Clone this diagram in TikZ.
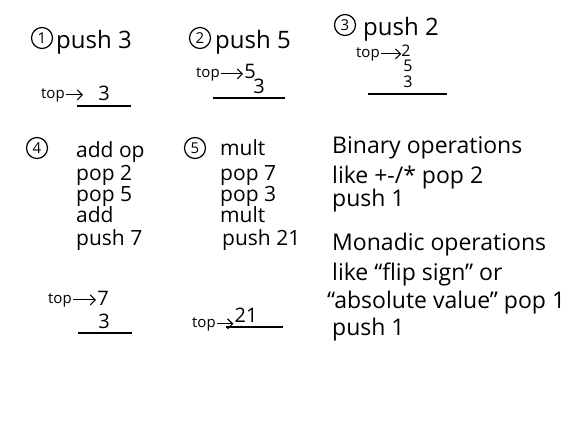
\documentclass[tikz,border=0pt]{standalone}
\usepackage{fontspec}
\setmainfont{Open Sans}
\usetikzlibrary{arrows.meta}

\tikzset{
  hand/.style={anchor=base west, inner sep=0pt, font=\fontsize{21}{25}\selectfont},
  head/.style={hand, font=\fontsize{24}{28}\selectfont},
  note/.style={hand, font=\fontsize{23}{27}\selectfont},
  stepno/.style={circle, draw, line width=1.2pt, inner sep=1pt, minimum size=21pt,
    font=\fontsize{15}{15}\selectfont},
  toplbl/.style={anchor=base west, inner sep=1pt, font=\fontsize{15}{15}\selectfont},
  val/.style={anchor=base, inner sep=1pt, font=\fontsize{20}{20}\selectfont},
  smallval/.style={val, inner sep=0pt, font=\fontsize{16}{16}\selectfont},
  ptr/.style={-{Straight Barb[length=5pt]}, line width=1.1pt},
  floor/.style={line width=1.5pt}
}

\begin{document}
\begin{tikzpicture}[x=1pt,y=-1pt]
\useasboundingbox (0,0) rectangle (576,432);

% the three pushes
\node[stepno] (s1) at (42,38) {1};
\node[head] (op1) at (56,48) {push 3};
\node[stepno] (s2) at (200,38) {2};
\node[head] (op2) at (215,48) {push 5};
\node[stepno] (s3) at (345,25) {3};
\node[head] (op3) at (363,35) {push 2};

% stack after 1
\node[toplbl] (t1) at (40,98) {top};
\node[val] (a1) at (104,100) {3};
\draw[ptr, shorten >=14pt] (t1.east) -- (t1.east -| a1.west);
\coordinate (f1l) at (77,106);
\coordinate (f1r) at (131,106);
\draw[floor] (f1l) -- (f1r);

% stack after 2
\node[toplbl] (t2) at (195,77) {top};
\node[val] (a2) at (250,78) {5};
\node[val] (b2) at (259,93) {3};
\draw[ptr] (t2.east) -- (t2.east -| a2.west);
\coordinate (f2l) at (213,98);
\coordinate (f2r) at (285,98);
\draw[floor] (f2l) -- (f2r);

% stack after 3
\node[toplbl] (t3) at (355,57) {top};
\node[smallval] (a3) at (406,56) {2};
\node[smallval] (b3) at (408,71) {5};
\node[smallval] (c3) at (408,87) {3};
\draw[ptr] (t3.east) -- (t3.east -| a3.west);
\coordinate (f3l) at (368,94);
\coordinate (f3r) at (447,94);
\draw[floor] (f3l) -- (f3r);

% add
\node[stepno] (s4) at (37,148) {4};
\node[hand] (op4) at (76,157) {add op};
\node[hand] (p41) at (76,180) {pop 2};
\node[hand] (p42) at (76,201) {pop 5};
\node[hand] (p43) at (76,222) {add};
\node[hand] (p44) at (76,245) {push 7};

% mult
\node[stepno] (s5) at (195,148) {5};
\node[hand] (op5) at (220,155) {mult};
\node[hand] (p51) at (220,180) {pop 7};
\node[hand] (p52) at (220,201) {pop 3};
\node[hand] (p53) at (220,222) {mult};
\node[hand] (p54) at (222,245) {push 21};

% stack after 4
\node[toplbl] (t4) at (47,303) {top};
\node[val] (a4) at (103,305) {7};
\node[val] (b4) at (104,328) {3};
\draw[ptr] (t4.east) -- (t4.east -| a4.west);
\coordinate (f4l) at (78,333);
\coordinate (f4r) at (132,333);
\draw[floor] (f4l) -- (f4r);

% stack after 5
\node[toplbl] (t5) at (191,327) {top};
\node[val] (a5) at (246,322) {21};
\draw[ptr] (t5.east) -- (t5.east -| a5.west);
\coordinate (f5l) at (226,327);
\coordinate (f5r) at (283,327);
\draw[floor] (f5l) -- (f5r);

% notes
\node[note] (n1) at (332,153) {Binary operations};
\node[note] (n2) at (332,183) {like +-/* pop 2};
\node[note] (n3) at (332,206) {push 1};
\node[note] (n4) at (332,250) {Monadic operations};
\node[note] (n5) at (332,280) {like ``flip sign'' or};
\node[note] (n6) at (327,308) {``absolute value'' pop 1};
\node[note] (n7) at (332,335) {push 1};
\end{tikzpicture}
\end{document}
